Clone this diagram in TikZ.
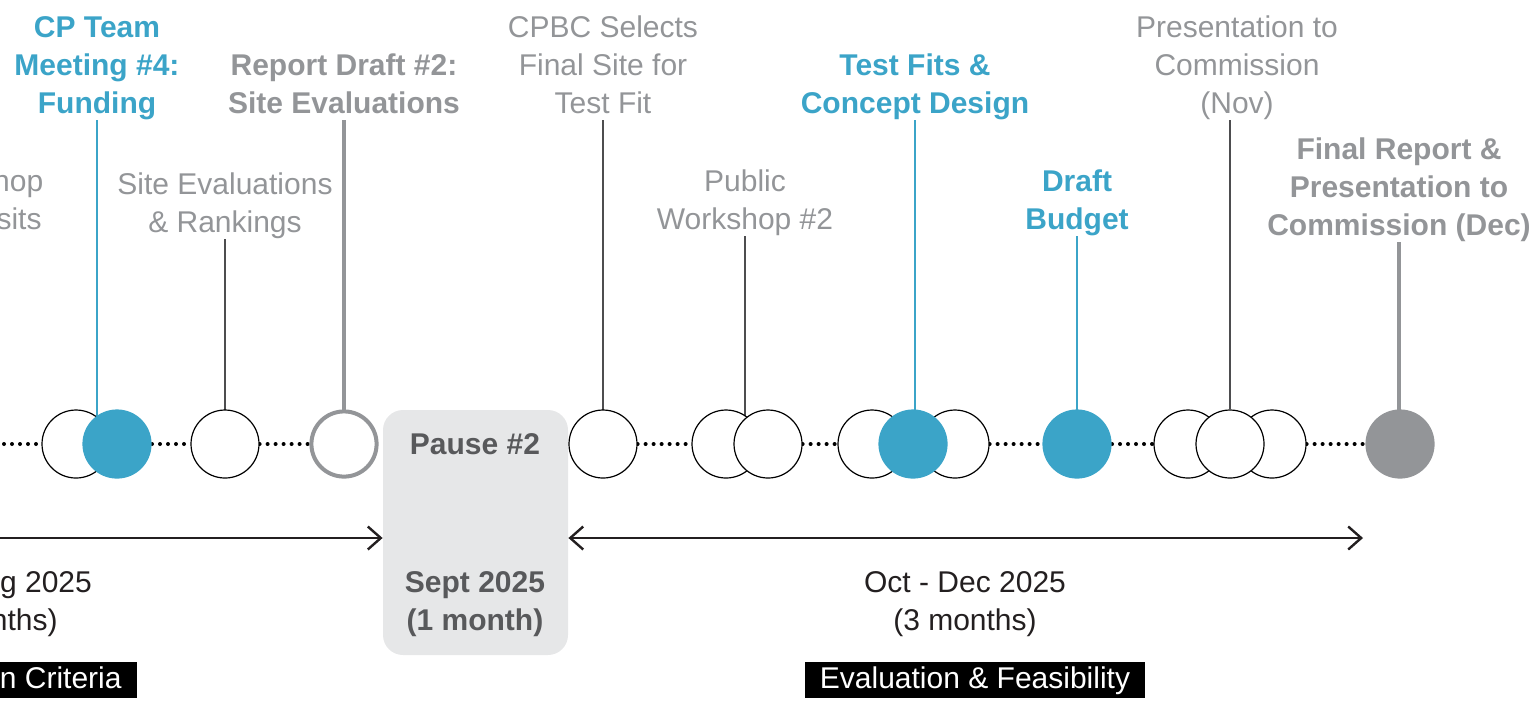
\documentclass[tikz,border=0pt]{standalone}
\usepackage{fontspec}
\setmainfont{Liberation Sans}
\usetikzlibrary{arrows.meta,positioning}
\definecolor{cpblue}{HTML}{3BA4C8}
\definecolor{txtgray}{HTML}{939598}
\definecolor{pausegray}{HTML}{58595B}
\definecolor{stemgray}{HTML}{4D4D4F}
\definecolor{boxgray}{HTML}{E6E7E8}
\definecolor{inkblack}{HTML}{231F20}
\pgfdeclarelayer{back}
\pgfsetlayers{back,main}

\begin{document}
\begin{tikzpicture}[x=0.5pt,y=-0.5pt,
  every node/.style={font=\fontsize{15}{19}\selectfont,align=center,inner sep=0pt},
  lbl/.style={anchor=south,text=txtgray,text depth=3pt},
  lblb/.style={lbl,font=\fontsize{15}{19}\selectfont\bfseries},
  wc/.style={circle,draw=black,fill=white,line width=0.6pt,minimum size=34pt},
  bc/.style={circle,fill=cpblue,minimum size=34.6pt},
  gc/.style={circle,fill=txtgray,minimum size=34.6pt},
  rc/.style={circle,draw=txtgray,fill=white,line width=2pt,minimum size=32.6pt},
  stemb/.style={cpblue,line width=1pt},
  stemd/.style={stemgray,line width=0.6pt},
  stemg/.style={txtgray,line width=2pt},
  dotrun/.style={line width=2pt,line cap=round,dash pattern=on 0pt off 4pt},
  spanline/.style={line width=1.2pt,draw=inkblack},
  tag/.style={fill=black,text=white,minimum height=18pt,inner xsep=7.5pt,text depth=2pt},
  when/.style={text=inkblack},
  whenb/.style={text=pausegray,font=\fontsize{15}{19}\selectfont\bfseries}]
\path[use as bounding box,clip] (0,0) rectangle (1534,708);

\node[rounded corners=10pt,fill=boxgray,minimum width=92.5pt,minimum height=122.5pt] (pause) at (475.5,532.5) {};

\node[lbl] (visit) at (-24,236) {Workshop\\Site Visits};
\node[lblb,text=cpblue] (fund) at (97,120) {CP Team\\Meeting \#4:\\Funding};
\node[lbl] (rank) at (225,239) {Site Evaluations\\\& Rankings};
\node[lblb] (rep2) at (344,120) {Report Draft \#2:\\Site Evaluations};
\node[lbl] (cpbc) at (603,120) {CPBC Selects\\Final Site for\\Test Fit};
\node[lbl] (pw2) at (745,236) {Public\\Workshop \#2};
\node[lblb,text=cpblue] (tfit) at (915,120) {Test Fits \&\\Concept Design};
\node[lblb,text=cpblue] (budg) at (1077,236) {Draft\\Budget};
\node[lbl] (pres) at (1237,120) {Presentation to\\Commission\\(Nov)};
\node[lblb] (finl) at (1399,242) {Final Report \&\\Presentation to\\Commission (Dec)};

\node[wc] (c1) at (76,444) {};
\node[bc] (c2) at (117,444) {};
\node[wc] (c3) at (225,444) {};
\node[rc] (c4) at (344,444) {};
\node[wc] (c5) at (603,444) {};
\node[wc] (c6) at (726,444) {};
\node[wc] (c7) at (768,444) {};
\node[wc] (c8) at (872,444) {};
\node[wc] (c10) at (955,444) {};
\node[bc] (c9) at (913,444) {};
\node[bc] (c11) at (1077,444) {};
\node[wc] (c12) at (1188,444) {};
\node[wc] (c14) at (1272,444) {};
\node[wc] (c13) at (1230,444) {};
\node[gc] (c15) at (1400,444) {};

\node[whenb] (paus) at (475,444) {Pause \#2};
\node[whenb] (sept) at (475,604) {Sept 2025\\(1 month)};
\node[when] (mayaug) at (-14,604) {May - Aug 2025\\(4 months)};
\node[when] (octdec) at (965,604) {Oct - Dec 2025\\(3 months)};
\node[tag,anchor=east] (crit) at (137,680) {Site Selection Criteria};
\node[tag] (feas) at (975,680) {Evaluation \& Feasibility};

\coordinate (dotL) at (-4,444);
\coordinate (armL) at (-20,538);
\coordinate (armR) at (1363,538);

\draw[spanline,-{Straight Barb[length=6.5pt,width=11.5pt]}] (armL) -- (armL -| pause.west);
\draw[spanline,{Straight Barb[length=6.5pt,width=11.5pt]}-{Straight Barb[length=6.5pt,width=11.5pt]}] (armR -| pause.east) -- (armR);

\begin{pgfonlayer}{back}
\draw[stemb] (fund.south) -- (fund.south |- c2.center);
\draw[stemd] (rank.south) -- (rank.south |- c3.center);
\draw[stemg] (rep2.south) -- (rep2.south |- c4.center);
\draw[stemd] (cpbc.south) -- (cpbc.south |- c5.center);
\draw[stemd] (pw2.south) -- (pw2.south |- c7.center);
\draw[stemb] (tfit.south) -- (tfit.south |- c9.center);
\draw[stemb] (budg.south) -- (budg.south |- c11.center);
\draw[stemd] (c13 |- pres.south) -- (c13);
\draw[stemg] (finl.south) -- (finl.south |- c15.center);
\draw[dotrun] (dotL) -- (c1.west);
\foreach \a/\b in {c2/c3,c3/c4,c5/c6,c7/c8,c10/c11,c11/c12,c14/c15}
  \draw[dotrun] (\a.east) -- (\b.west);
\end{pgfonlayer}
\end{tikzpicture}
\end{document}
